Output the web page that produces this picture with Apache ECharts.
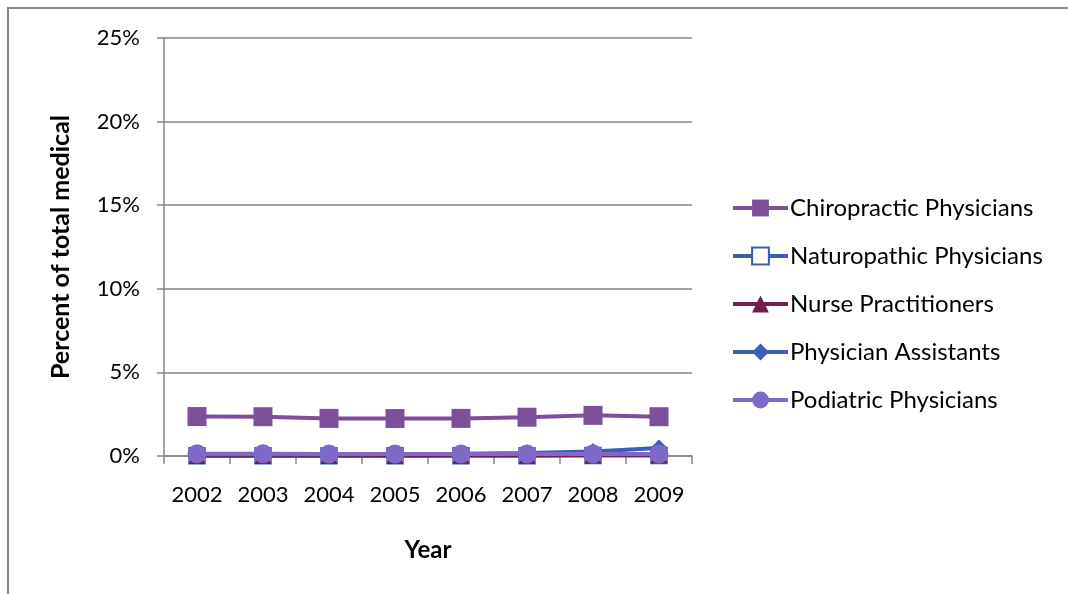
<!DOCTYPE html>
<html>
<head>
<meta charset="utf-8">
<script src="https://cdn.jsdelivr.net/npm/echarts@6/dist/echarts.min.js"></script>
<style>
  html, body { margin: 0; padding: 0; background: #fff; }
  #chart { width: 1068px; height: 594px; }
</style>
</head>
<body>
<div id="chart"></div>
<script>
// Share of total medical providers by profession, 2002-2009 (percent)
const years = ['2002', '2003', '2004', '2005', '2006', '2007', '2008', '2009'];
const chiropractic = [2.36, 2.35, 2.25, 2.24, 2.25, 2.32, 2.43, 2.35];
const naturopathic = [0.02, 0.02, 0.02, 0.02, 0.02, 0.02, 0.03, 0.03];
const nursePractitioners = [0.03, 0.03, 0.03, 0.03, 0.04, 0.05, 0.06, 0.07];
const physicianAssistants = [0.10, 0.11, 0.11, 0.12, 0.14, 0.18, 0.27, 0.48];
const podiatric = [0.13, 0.13, 0.12, 0.12, 0.12, 0.12, 0.12, 0.12];
const yTicks = [0, 5, 10, 15, 20, 25];

const FONT = 'Lato';
const chart = echarts.init(document.getElementById('chart'));

function line(name, data, color, symbol, size, fill) {
  return {
    name, type: 'line', data,
    symbol, symbolSize: size,
    lineStyle: { width: 4, color },
    itemStyle: { color: fill || color, borderColor: color, borderWidth: fill ? 1.5 : 0 },
    emphasis: { disabled: true },
    animation: false
  };
}

chart.setOption({
  backgroundColor: '#fff',
  graphic: [{
    type: 'rect',
    shape: { x: 8, y: 8, width: 1080, height: 600 },
    style: { fill: 'none', stroke: '#868686', lineWidth: 2 },
    silent: true
  }],
  grid: { left: 164, right: 376, top: 38, bottom: 138 },
  legend: {
    orient: 'vertical',
    left: 726, top: 191,
    itemWidth: 55, itemHeight: 21, itemGap: 24,
    lineStyle: { width: 4 },
    textStyle: { fontFamily: FONT, fontSize: 24, lineHeight: 24, color: '#000', padding: [0, 0, 0, -3] },
    data: ['Chiropractic Physicians', 'Naturopathic Physicians', 'Nurse Practitioners', 'Physician Assistants', 'Podiatric Physicians']
  },
  xAxis: {
    type: 'category',
    data: years,
    boundaryGap: true,
    name: 'Year',
    nameLocation: 'middle',
    nameGap: 82,
    nameTextStyle: { fontFamily: FONT, fontSize: 24, fontWeight: 'bold', color: '#000' },
    axisLine: { lineStyle: { color: '#868686', width: 1.5 } },
    axisTick: { show: true, length: 8, alignWithLabel: false, lineStyle: { color: '#868686', width: 1.5 } },
    axisLabel: { fontFamily: FONT, fontSize: 22, color: '#000', margin: 28, interval: 0 }
  },
  yAxis: {
    type: 'value',
    min: yTicks[0], max: yTicks[yTicks.length - 1], interval: 5,
    name: 'Percent of total medical',
    nameLocation: 'middle',
    nameGap: 91,
    nameRotate: 90,
    nameTextStyle: { fontFamily: FONT, fontSize: 25, fontWeight: 'bold', color: '#000' },
    axisLine: { show: true, lineStyle: { color: '#868686', width: 1.5 } },
    axisTick: { show: true, length: 7, inside: false, lineStyle: { color: '#868686', width: 1.5 } },
    splitLine: { lineStyle: { color: '#868686', width: 1.5 } },
    axisLabel: { fontFamily: FONT, fontSize: 22, color: '#000', margin: 24, formatter: v => v + '%' }
  },
  series: [
    line('Chiropractic Physicians', chiropractic, '#7D4F9B', 'rect', 19),
    line('Naturopathic Physicians', naturopathic, '#3B5DB3', 'rect', 16, '#ffffff'),
    line('Nurse Practitioners', nursePractitioners, '#6F1F4F', 'triangle', 17),
    line('Physician Assistants', physicianAssistants, '#3760B6', 'diamond', 17),
    line('Podiatric Physicians', podiatric, '#7E68C8', 'circle', 19)
  ]
});
</script>
</body>
</html>
